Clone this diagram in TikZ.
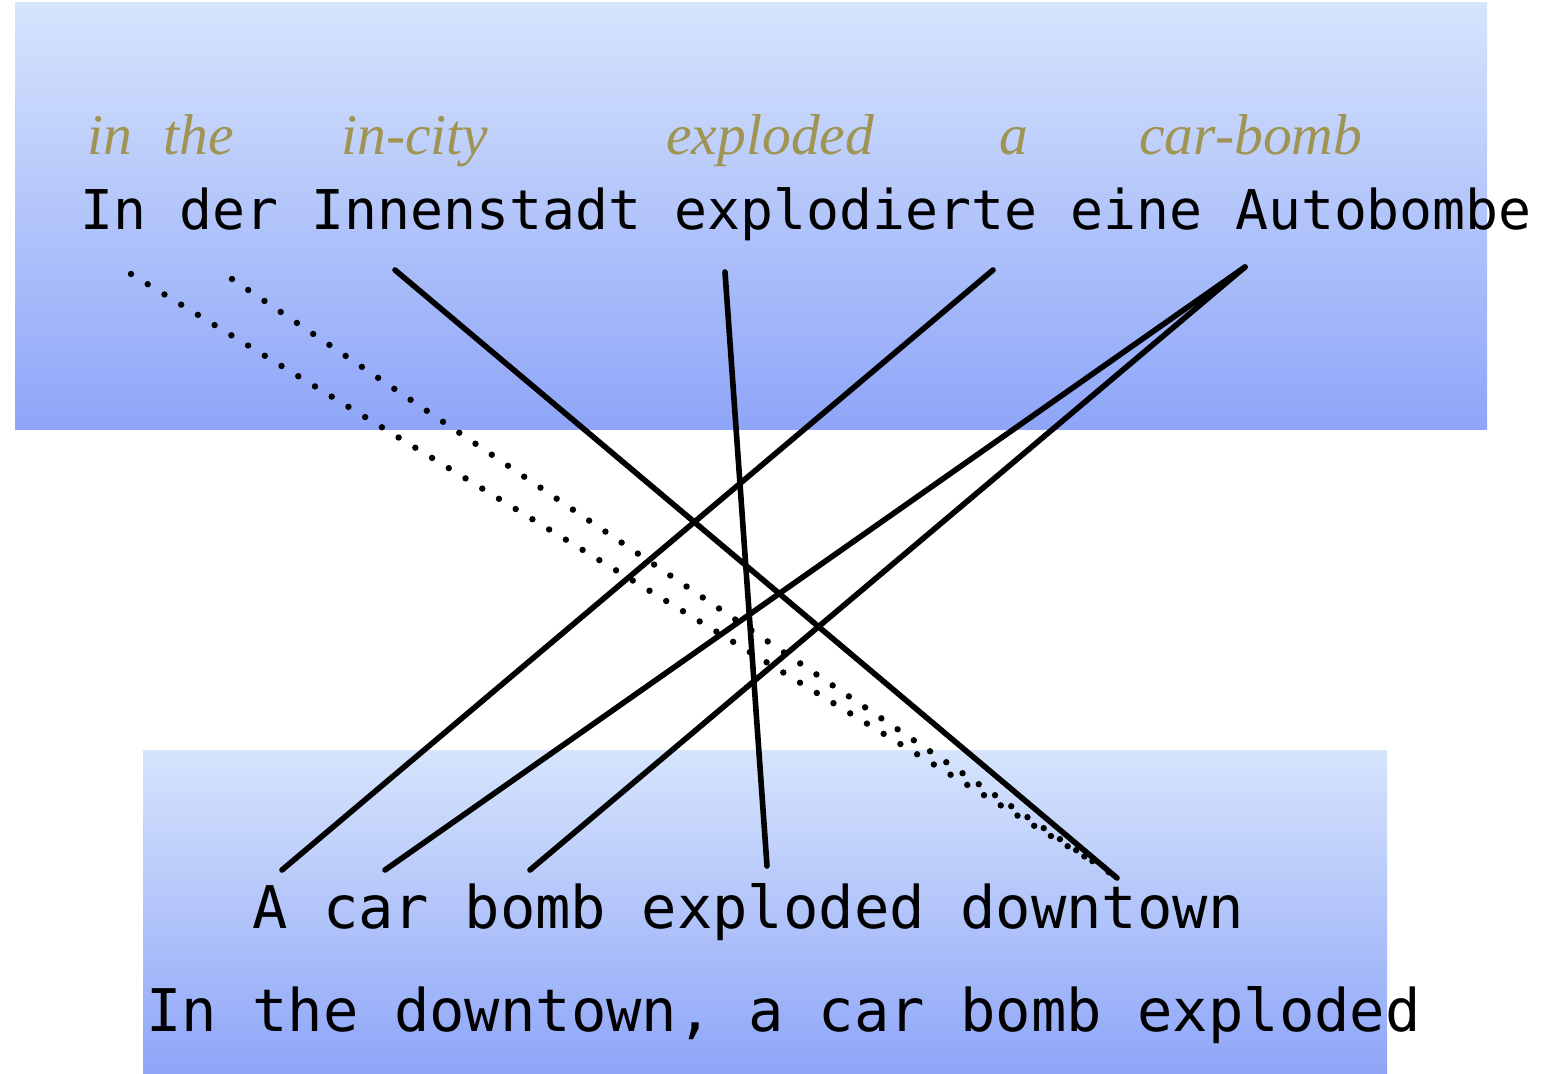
\documentclass[tikz,border=0pt]{standalone}
\usepackage{fontspec}
\setmainfont{Liberation Serif}
\newfontfamily\monofnt{DejaVu Sans Mono}
\definecolor{boxtop}{RGB}{214,228,252}
\definecolor{boxbot}{RGB}{142,165,248}
\definecolor{gloss}{RGB}{160,148,82}
\begin{document}
\begin{tikzpicture}[x=0.5pt,y=-0.5pt,
  glossword/.style={anchor=base west,inner sep=0pt,text=gloss,font=\fontsize{28.8pt}{30pt}\selectfont\itshape},
  deline/.style={anchor=base west,inner sep=0pt,font=\monofnt\fontsize{27.4pt}{30pt}\selectfont},
  enline/.style={anchor=base west,inner sep=0pt,font=\monofnt\fontsize{29.4pt}{32pt}\selectfont},
  alink/.style={line width=2.8pt,line cap=round},
  dlink/.style={line width=3.2pt,line cap=round,dash pattern=on 0pt off 9.8pt}]
\useasboundingbox (0,0) rectangle (1557,1074);
\fill[white] (0,0) rectangle (1557,1074);
% boxes
\shade[top color=boxtop,bottom color=boxbot] (15,3) rectangle (1487,430);
\shade[top color=boxtop,bottom color=boxbot] (143,750) rectangle (1387,1074);
% gloss words
\node[glossword] (g1) at (87,155) {in};
\node[glossword] (g2) at (163,155) {the};
\node[glossword] (g3) at (341,155) {in-city};
\node[glossword] (g4) at (666,155) {exploded};
\node[glossword] (g5) at (999,155) {a};
\node[glossword] (g6) at (1139,155) {car-bomb};
% sentences
\node[deline] (de) at (80,230) {In der Innenstadt explodierte eine Autobombe};
\node[enline] (en1) at (252,928) {A car bomb exploded downtown};
\node[enline] (en2) at (146,1031) {In the downtown, a car bomb exploded};
% link end points
\coordinate (tIn) at (131,274);
\coordinate (tder) at (232,279);
\coordinate (tInn) at (395,270);
\coordinate (texp) at (725,272);
\coordinate (teine) at (993,270);
\coordinate (tauto) at (1245,267);
\coordinate (bA) at (282,870);
\coordinate (bcar) at (385,870);
\coordinate (bbomb) at (530,870);
\coordinate (bexp) at (767,866);
\coordinate (bdown) at (1117,878);
\coordinate (bdown1) at (1100,866);
\coordinate (bdown2) at (1110,873);
% links
\draw[dlink] (tIn) -- (bdown1);
\draw[dlink] (tder) -- (bdown2);
\draw[alink] (tInn) -- (bdown);
\draw[alink] (texp) -- (bexp);
\draw[alink] (teine) -- (bA);
\draw[alink] (tauto) -- (bcar);
\draw[alink] (tauto) -- (bbomb);
\end{tikzpicture}
\end{document}
